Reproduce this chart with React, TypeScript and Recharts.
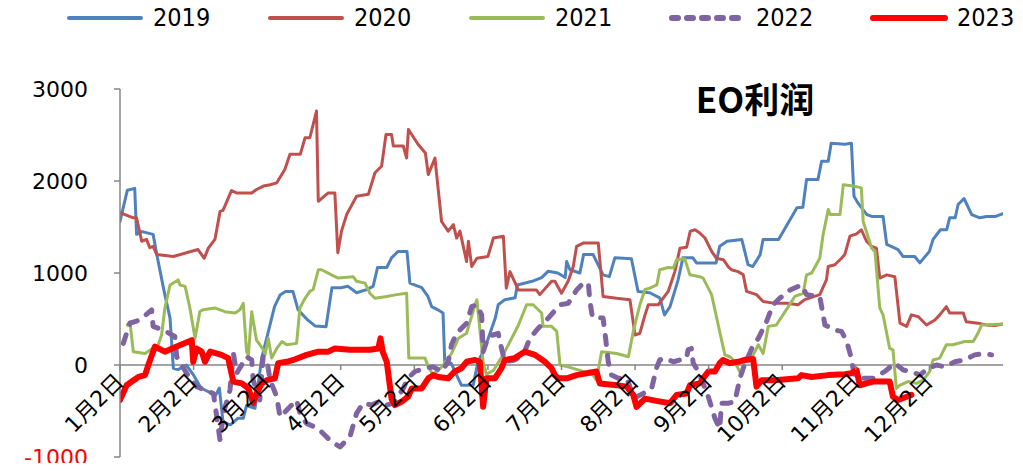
import React from "react";
import { LineChart, Line, XAxis, YAxis, ReferenceLine } from "recharts";

// ---- data ----
const MONTH_LABELS = ["1月2日", "2月2日", "3月2日", "4月2日", "5月2日", "6月2日", "7月2日", "8月2日", "9月2日", "10月2日", "11月2日", "12月2日"];
const MONTH_TICKS = [0, 20, 40, 60, 80, 100, 120, 140, 160, 180, 200, 220];
const Y_TICKS = [-1000, 0, 1000, 2000, 3000];
const TITLE = "EO利润";

// [trading-day index, profit]
const pts2019: [number, number][] = [
  [0, 1560], [2, 1900], [4, 1920], [4.5, 1420], [6, 1450], [9, 1420], [10, 1200], [12, 800], [13.6, 510], [14.5, -35],
  [15.8, -50], [18, 0], [20, -110], [22, -250], [26, -330], [27, -250], [28, -620], [30, -650], [32, -580], [33.5, -580],
  [34.4, -440], [36.7, -470], [38.5, 75], [40, 310], [42, 635], [43.5, 760], [45, 800], [47, 800], [48.4, 600], [51, 490],
  [53, 425], [56, 415], [57.6, 840], [60, 840], [62, 855], [64.3, 785], [67, 820], [68.8, 855], [70, 1060], [72.5, 1060],
  [73.8, 1165], [75.6, 1235], [78, 1235], [78.8, 890], [82, 840], [83.7, 745], [84.7, 635], [86.4, 600], [87.8, 565], [88.3, 0],
  [90, 20], [91.5, -110], [92.8, -220], [96, -220], [97.3, 35], [99.2, 185], [102, 510], [102.8, 655], [104.6, 710], [107.4, 730],
  [108, 870], [112, 910], [114.6, 950], [116.4, 1020], [119, 1000], [121, 950], [121.4, 1125], [122.3, 1035], [125, 1000], [126, 1200],
  [128.6, 1200], [131.3, 980], [133, 960], [134.5, 1165], [139, 1155], [140.8, 800], [144, 785], [146.7, 730], [148, 545], [149.5, 635],
  [151.7, 925], [153, 1165], [155.7, 1165], [156.7, 1110], [162, 1110], [163, 1290], [165, 1345], [169, 1365], [170.7, 1090], [172, 1070],
  [174, 1200], [174.8, 1365], [179, 1365], [184, 1710], [185.6, 1715], [186.6, 2015], [189.7, 2015], [190.7, 2215], [192.5, 2215], [193.3, 2410],
  [197, 2400], [198.8, 2410], [199.5, 1835], [200.5, 1765], [203, 1635], [204.3, 1615], [207.4, 1615], [208.4, 1310], [211.5, 1255], [212.8, 1180],
  [216, 1180], [217.4, 1110], [220, 1235], [221, 1365], [223, 1470], [224.7, 1470], [225.5, 1600], [227, 1600], [227.8, 1745], [229.4, 1810],
  [231.5, 1635], [233.7, 1600], [235.5, 1615], [238, 1615], [240, 1645],
];

const pts2020: [number, number][] = [
  [0, 1655], [3.6, 1600], [4.5, 1600], [5.9, 1345], [7.2, 1365], [8.1, 1275], [9, 1290], [10, 1200], [14.5, 1180], [21.2, 1255],
  [22.9, 1160], [24, 1270], [25.8, 1365], [27.2, 1670], [28, 1680], [30.3, 1895], [31.7, 1870], [35.8, 1870], [37, 1905], [39, 1945],
  [40.8, 1960], [42.6, 1980], [44.8, 2125], [46.2, 2290], [49, 2290], [50.3, 2470], [51.6, 2470], [53.4, 2760], [53.9, 1780], [56.6, 1870],
  [58.4, 1870], [59.2, 1220], [60.2, 1455], [61.6, 1635], [64.3, 1835], [67.5, 1855], [69.3, 2090], [71.1, 2160], [72.3, 2505], [73.8, 2505],
  [74.3, 2380], [77, 2380], [77.9, 2250], [78.4, 2560], [81, 2400], [83, 2305], [83.8, 2070], [85.6, 2250], [87.4, 1560], [89.2, 1455],
  [90.6, 1525], [91.5, 1380], [92.4, 1455], [94.2, 1125], [94.7, 1345], [95.6, 1070], [97, 1160], [100, 1180], [101.5, 1380], [104.2, 1400],
  [105, 835], [106, 1015], [108.3, 815], [113.2, 815], [114.1, 765], [117.3, 910], [118.2, 910], [120, 780], [121.8, 910], [123.2, 1070],
  [124.1, 1290], [125.9, 1325], [130, 1325], [131.3, 745], [135, 725], [138.6, 710], [140, 325], [141.3, 345], [142.7, 545], [143.6, 655],
  [146.3, 655], [149, 800], [150.8, 1015], [152.2, 1270], [154, 1280], [155, 1455], [156.3, 1470], [157.6, 1435], [159, 1380], [160.8, 1235],
  [162.1, 1160], [164, 1145], [165.3, 1070], [166.2, 1035], [168, 1015], [169.4, 980], [170.3, 800], [173, 765], [174.8, 690], [178, 670],
  [181.2, 670], [184.3, 655], [186.1, 710], [190.2, 765], [192, 925], [192.5, 1070], [194.3, 1090], [196.1, 1160], [197, 1200], [198.4, 1400],
  [200.2, 1425], [201.5, 1470], [202.9, 1345], [204.3, 1290], [205.6, 1270], [206.5, 945], [208.4, 980], [210.6, 960], [212, 455], [213.8, 420],
  [215.1, 545], [217, 525], [219.2, 435], [221.5, 490], [222.8, 545], [224.6, 635], [225.5, 565], [229.2, 565], [230, 470], [233.2, 455],
  [235.5, 435], [237.8, 430], [240, 445],
];

const pts2021: [number, number][] = [
  [2, 435], [2.7, 470], [3.6, 145], [6.8, 125], [10.4, 220], [11.3, 325], [12.2, 620], [13.6, 870], [15.8, 925], [16.3, 870],
  [17.7, 855], [19, 620], [20.4, 290], [21.7, 580], [22.6, 600], [25.8, 620], [28.5, 580], [31.3, 565], [32.6, 600], [33.5, 670],
  [34.4, 145], [34.9, 110], [35.8, 580], [37.1, 270], [39, 165], [39.4, 110], [40.3, 290], [41.2, 75], [42.6, 180], [44, 255],
  [45.3, 220], [48, 235], [48.9, 620], [50.3, 725], [51.6, 800], [52.5, 820], [53.9, 1035], [54.8, 1035], [57.5, 980], [59.3, 945],
  [63.4, 960], [64.3, 910], [66.6, 890], [67.9, 780], [69.3, 725], [72.5, 745], [75.2, 765], [77.9, 780], [78.5, 75], [82.9, 75],
  [83.8, -20], [85, -100], [86.5, -60], [88.3, 20], [90.1, 125], [92, 290], [94.2, 345], [96.5, 655], [97, 710], [98.7, 35],
  [99.6, -100], [101.5, -60], [104.6, 145], [108.3, 435], [110.5, 655], [112.3, 655], [114.6, 565], [115, 420], [117.3, 420], [118.7, 365],
  [119.6, 0], [121.8, -20], [125.9, -70], [128.6, -110], [129.5, -165], [130.9, 145], [135, 125], [138.2, 90], [139.5, 365], [141.3, 655],
  [142.7, 820], [144, 835], [145.9, 870], [146.7, 1035], [149, 1060], [150.4, 1055], [151.3, 1145], [153.5, 1155], [154.9, 980], [157.6, 960],
  [158.5, 945], [160.8, 765], [162.6, 435], [164.4, 110], [165.8, 90], [167.1, 35], [168.9, -110], [169.8, 75], [172.1, 110], [173.5, 220],
  [174.8, 125], [176.2, 420], [178.4, 435], [180.2, 545], [183.4, 745], [185.7, 780], [186.6, 980], [188, 1000], [190.2, 1160], [191.1, 1415],
  [192.5, 1690], [193, 1635], [195.7, 1635], [196.6, 1960], [199.3, 1945], [201.5, 1925], [202, 1560], [204.3, 1270], [205.2, 1235], [206.5, 620],
  [207.4, 545], [209.2, 180], [210.1, 165], [211, -255], [212, -220], [214.2, -180], [216.5, -200], [218.3, -165], [220.1, -70], [221, 55],
  [222.8, 75], [224.6, 220], [226.4, 220], [229.6, 255], [231.9, 255], [233.2, 345], [234.2, 435], [240, 445],
];

const pts2022: [number, number][] = [
  [0.9, 235], [2.7, 455], [5.4, 490], [8.6, 600], [9, 420], [11.8, 380], [14.9, 310], [15.4, 90], [18.1, -90], [20.8, -235],
  [25.4, -310], [27.2, -820], [28.1, -525], [29.9, -270], [30.8, 130], [31.7, -90], [34.4, 90], [35.8, 55], [36.2, -165], [38, -380],
  [38.9, 90], [39.9, 55], [40.8, -165], [42.6, -345], [43.5, -565], [48, -380], [48.9, -525], [50.7, -635], [53.9, -690], [55.2, -745],
  [57.5, -835], [59.8, -890], [62.5, -780], [64.3, -525], [66.1, -415], [68.4, -435], [70.2, -400], [72.5, -435], [74.3, -415], [77, -255],
  [78.3, -140], [80.2, -70], [82.9, -35], [85.1, -20], [87.4, -70], [89.2, 35], [90.1, 220], [91.5, 345], [94.2, 455], [95.6, 635],
  [96.9, 655], [98.3, 545], [98.7, 145], [100.1, 310], [102.8, 345], [103.7, 180], [104.6, 35], [107.3, 55], [109.6, 110], [111.4, 290],
  [113.7, 400], [116.4, 510], [119.6, 655], [121.8, 670], [124.1, 815], [125.9, 890], [127.3, 890], [127.7, 700], [128.4, 520], [131.3, 510],
  [132, 290], [132.7, 35], [133.6, -110], [135.4, -145], [137.7, -145], [138.6, -235], [139.5, -365], [143.1, -290], [144.5, -255], [145.8, -35],
  [146.7, 55], [148.1, 75], [150.4, 35], [154, 75], [154.4, 165], [155.3, 180], [155.8, 20], [157.2, -70], [159.9, -345], [161.7, -580],
  [163, -690], [163.5, -415], [165.3, -415], [167.1, -400], [168.5, -145], [169.4, -35], [171.7, 180], [173.5, 290], [175.7, 470], [177.5, 655],
  [179.3, 725], [182.1, 815], [185.2, 870], [186.6, 765], [190.2, 745], [191.6, 435], [194.3, 380], [196.1, 365], [197.5, 260], [198.6, 100],
  [199.6, -110], [202, -145], [204.7, -145], [207.9, -70], [210.6, 20], [212.9, -55], [215.1, -70], [217.4, -110], [219.7, -35], [221.9, 0],
  [224.2, -20], [226.9, 35], [229.6, 55], [232.3, 110], [234.6, 125], [236.9, 110],
];

const pts2023: [number, number][] = [
  [0, -380], [1.8, -220], [3.2, -180], [5, -130], [6.8, -110], [7.7, 0], [9.5, 200], [12.2, 145], [15.4, 200], [19.5, 270],
  [19.9, 35], [20.8, 180], [22.2, 145], [23.1, 35], [24.5, 145], [27.6, 110], [29.4, 75], [30.8, -180], [33.1, -200], [34.9, -255],
  [36.2, -415], [37.1, -310], [38.5, -200], [39.9, -165], [42.1, -145], [43, 20], [45.3, 35], [47.1, 55], [50.7, 110], [53.9, 145],
  [56.6, 145], [58.4, 180], [62.5, 165], [67.9, 165], [70.2, 180], [70.8, 290], [71.4, 145], [72.5, 35], [73.8, -365], [74.7, -435],
  [76.5, -400], [78.3, -345], [79.3, -255], [82, -255], [83.8, -145], [85.1, -110], [86.5, -130], [89.2, -145], [91, -70], [92.8, -35],
  [94.2, 35], [96.5, 55], [97.8, 35], [98.7, -455], [99.6, -145], [101.9, -145], [103.7, -35], [104.6, 55], [107.3, 75], [110, 145],
  [112.8, 110], [115.5, 35], [117.3, -35], [118.2, -110], [119.1, -145], [121.4, -145], [124.1, -110], [126.8, -90], [129.5, -70], [130.4, -200],
  [135, -220], [137.7, -235], [139.5, -325], [140.4, -455], [142.7, -365], [145.8, -390], [149.5, -415], [151.3, -325], [154, -310], [154.9, -220],
  [157.6, -200], [158.5, -145], [159.9, -70], [161.7, -70], [163, 20], [163.9, 55], [165.8, 20], [168, 35], [169.8, 55], [172.1, 65],
  [173, -235], [174.4, -165], [178, -165], [184.3, -145], [185.2, -110], [188, -130], [192.5, -110], [197, -100], [198.8, -90], [200.2, -55],
  [201.1, -220], [202.9, -200], [204.7, -180], [209.2, -180], [210.1, -345], [211.5, -380], [213.8, -345], [215.1, -325],
];

// ---- layout / style ----
const CW = 1007;
const CH = 463;
const M = { top: 81, right: 12, bottom: 13, left: 0 };
const XAXIS_H = 1;
const X_DOMAIN: [number, number] = [0, 240];
const Y_DOMAIN: [number, number] = [-1000, 3000];
const AXIS_COLOR = "#868686";
const AXIS_FONT = "'DejaVu Sans', 'Noto Sans CJK SC', sans-serif";
const AXIS_FONT_SIZE = 22;

const SERIES = [
  { name: "2019", pts: pts2019, color: "#4F81BD", width: 3, dash: undefined as string | undefined, legendWidth: 4 },
  { name: "2020", pts: pts2020, color: "#C0504D", width: 3, dash: undefined, legendWidth: 4 },
  { name: "2021", pts: pts2021, color: "#9BBB59", width: 3, dash: undefined, legendWidth: 4 },
  { name: "2022", pts: pts2022, color: "#8064A2", width: 5, dash: "9 11", legendWidth: 6 },
  { name: "2023", pts: pts2023, color: "#FF0000", width: 6, dash: undefined, legendWidth: 6 },
];

const PLOT_H = CH - M.top - M.bottom - XAXIS_H;
const ZERO_Y = M.top + (PLOT_H * Y_DOMAIN[1]) / (Y_DOMAIN[1] - Y_DOMAIN[0]);

const XTick = (props: any) => {
  const { x, payload } = props;
  const i = MONTH_TICKS.indexOf(payload.value);
  const label = i >= 0 ? MONTH_LABELS[i] : "";
  const ax = x + 5;
  const ay = ZERO_Y + 18;
  return (
    <g>
      <line x1={x} y1={ZERO_Y} x2={x} y2={ZERO_Y + 5} stroke={AXIS_COLOR} strokeWidth={1.5} />
      <text
        x={ax}
        y={ay}
        textAnchor="end"
        fontSize={AXIS_FONT_SIZE}
        fontFamily={AXIS_FONT}
        fill="#000"
        transform={`rotate(-45 ${ax} ${ay})`}
      >
        {label}
      </text>
    </g>
  );
};

const YTick = (props: any) => {
  const { x, y, payload } = props;
  return (
    <text
      x={x}
      y={y}
      textAnchor="end"
      dominantBaseline="central"
      fontSize={AXIS_FONT_SIZE}
      fontFamily={AXIS_FONT}
      fill={payload.value < 0 ? "#FF0000" : "#000"}
    >
      {payload.value}
    </text>
  );
};

export default function App() {
  return (
    <div style={{ position: "relative", width: CW, height: CH, marginBottom: -8 }}>
      <LineChart width={CW} height={CH} margin={M}>
        <XAxis
          type="number"
          dataKey="x"
          domain={X_DOMAIN}
          ticks={MONTH_TICKS}
          interval={0}
          height={XAXIS_H}
          axisLine={false}
          tickLine={false}
          tick={<XTick />}
          allowDataOverflow
        />
        <YAxis
          type="number"
          domain={Y_DOMAIN}
          ticks={Y_TICKS}
          interval={0}
          width={112}
          axisLine={{ stroke: AXIS_COLOR, strokeWidth: 1.5 }}
          tickLine={{ stroke: AXIS_COLOR, strokeWidth: 1.5 }}
          tickSize={6}
          tickMargin={26}
          tick={<YTick />}
          allowDataOverflow
        />
        <ReferenceLine y={0} stroke={AXIS_COLOR} strokeWidth={1.5} />
        {SERIES.map((s) => (
          <Line
            key={s.name}
            data={s.pts.map(([x, v]) => ({ x, v }))}
            dataKey="v"
            name={s.name}
            type="linear"
            stroke={s.color}
            strokeWidth={s.width}
            strokeDasharray={s.dash}
            strokeLinecap="round"
            strokeLinejoin="round"
            dot={false}
            activeDot={false}
            isAnimationActive={false}
          />
        ))}
      </LineChart>
      <div
        style={{
          position: "absolute",
          left: 57,
          top: 0,
          display: "flex",
          fontFamily: "'DejaVu Sans Condensed', 'Liberation Sans Narrow', 'Roboto Condensed', sans-serif",
          fontSize: 25,
        }}
      >
        {SERIES.map((s) => (
          <div key={s.name} style={{ width: 201, height: 20, display: "flex", alignItems: "center" }}>
            <svg width={80} height={10} style={{ display: "block" }}>
              <line
                x1={4}
                y1={5}
                x2={76}
                y2={5}
                stroke={s.color}
                strokeWidth={s.legendWidth}
                strokeDasharray={s.dash ? "6 9" : undefined}
                strokeLinecap="round"
              />
            </svg>
            <span style={{ marginLeft: 8, lineHeight: "20px", color: "#000" }}>{s.name}</span>
          </div>
        ))}
      </div>
      <div
        style={{
          position: "absolute",
          left: 647,
          top: 70,
          width: 200,
          textAlign: "center",
          fontFamily: "'Noto Sans CJK SC', sans-serif",
          fontWeight: 700,
          fontSize: 35,
          lineHeight: "40px",
          color: "#000",
        }}
      >
        {TITLE}
      </div>
    </div>
  );
}
